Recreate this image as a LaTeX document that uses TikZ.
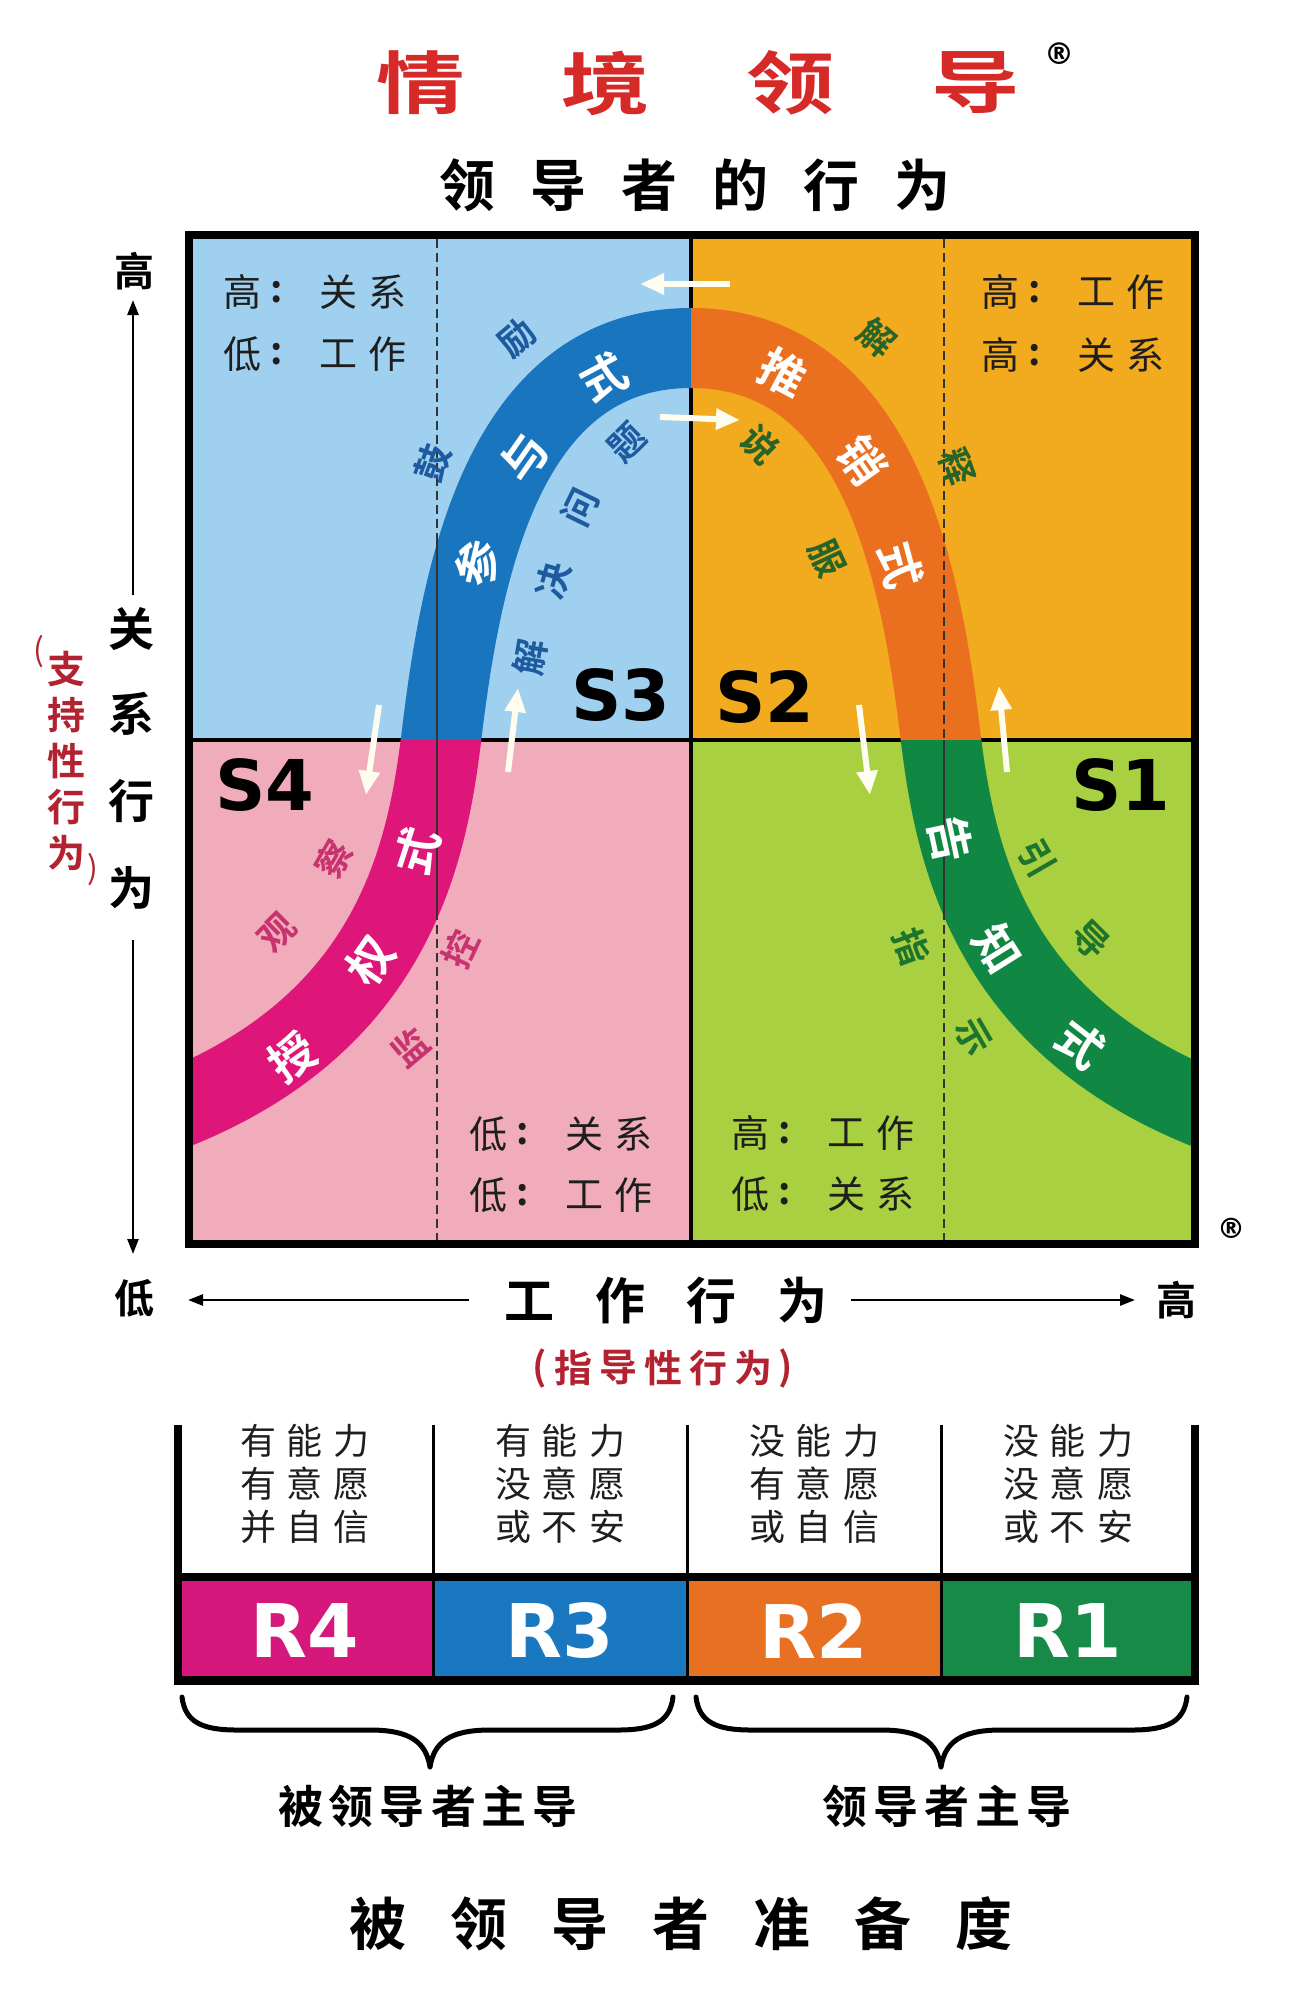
\documentclass[tikz,border=0pt]{standalone}
\usepackage{fontspec}
\usetikzlibrary{arrows.meta}
\newfontfamily\cjk{Noto Sans CJK SC}
\newfontfamily\cjkb{Noto Sans CJK SC Bold}
\newfontfamily\dej{DejaVu Sans}
\newcommand\fsz[1]{\fontsize{#1}{#1}\selectfont}
\definecolor{qblue}{RGB}{160,208,240}
\definecolor{qorange}{RGB}{242,170,30}
\definecolor{qpink}{RGB}{240,172,186}
\definecolor{qlime}{RGB}{168,208,64}
\definecolor{bandblue}{RGB}{25,118,190}
\definecolor{bandorange}{RGB}{234,112,32}
\definecolor{bandmag}{RGB}{222,22,122}
\definecolor{bandgreen}{RGB}{16,136,68}
\definecolor{titlered}{RGB}{214,42,40}
\definecolor{subred}{RGB}{178,34,48}
\definecolor{txtdark}{RGB}{30,30,30}
\definecolor{tblue}{RGB}{30,90,160}
\definecolor{tgreenA}{RGB}{40,100,40}
\definecolor{tmag}{RGB}{200,50,110}
\definecolor{tgreenB}{RGB}{30,115,45}
\definecolor{arrowwhite}{RGB}{255,253,240}
\definecolor{rfour}{RGB}{214,24,124}
\definecolor{rthree}{RGB}{26,120,192}
\definecolor{rtwo}{RGB}{232,112,34}
\definecolor{rone}{RGB}{22,138,70}
\newcommand\qlab[5]{%
  \node[qtxt] at (#1,#2) {#3};
  \node[qtxt,font=\cjkb\fsz{38}] at (#1+35,#2) {:};
  \node[qtxt] at (#1+96,#2) {#4};
  \node[qtxt] at (#1+145,#2) {#5};}
\newcommand\tri[3]{#1\hspace{11pt}#2\hspace{11pt}#3}
\begin{document}
\begin{tikzpicture}[x=1pt,y=-1pt,
  every node/.style={inner sep=0pt,outer sep=0pt},
  titletxt/.style={text=titlered,font=\cjkb\fsz{68},xscale=1.3},
  headtxt/.style={text=black,font=\cjkb\fsz{56}},
  axtxt/.style={text=black,font=\cjkb\fsz{46}},
  endtxt/.style={text=black,font=\cjkb\fsz{40}},
  redtxt/.style={text=subred,font=\cjkb\fsz{38}},
  qtxt/.style={text=txtdark,font=\cjk\fsz{38}},
  slab/.style={text=black,font=\dej\bfseries\fsz{70}},
  rlab/.style={text=white,font=\dej\bfseries\fsz{74}},
  bandtxt/.style={text=white,font=\cjkb\fsz{46}},
  smalltxt/.style={font=\cjkb\fsz{36}},
  celltxt/.style={text=txtdark,font=\cjk\fsz{36}},
  leadtxt/.style={text=black,font=\cjkb\fsz{45}},
  dashline/.style={draw=black!80,line width=2.5pt,dash pattern=on 9pt off 5pt},
  warrow/.style={draw=arrowwhite,line width=6pt,-{Triangle[length=24pt,width=20pt]}},
  axarrow/.style={draw=black,line width=2.5pt,-{Triangle[length=15pt,width=11pt]}},
  bracestyle/.style={draw=black,line width=5pt,line cap=round,line join=round}]
\useasboundingbox (0,0) rectangle (1296,2000);
\fill[white] (0,0) rectangle (1296,2000);

% title
\foreach \c/\x [count=\i] in {情/421,境/606,领/791,导/976}
  \node[titletxt] (t\i) at (\x,83) {\c};
\node[font=\dej\bfseries\fsz{30}] (reg1) at (1059,54) {®};
\node[headtxt] (head) at (695,185) {领\hspace{35pt}导\hspace{35pt}者\hspace{35pt}的\hspace{35pt}行\hspace{35pt}为};

% quadrants
\fill[qblue] (189,235) rectangle (691,740);
\fill[qorange] (691,235) rectangle (1195,740);
\fill[qpink] (189,740) rectangle (691,1244);
\fill[qlime] (691,740) rectangle (1195,1244);
\draw[line width=4pt] (691,235) -- (691,1244);
\draw[line width=4pt] (189,740) -- (1195,740);

% band
\foreach \xa/\ya/\xb/\yb/\col in {193/239/691/740/bandblue,691/239/1191/740/bandorange,193/740/691/1240/bandmag,691/740/1191/1240/bandgreen}{
  \begin{scope}
    \clip (\xa,\ya) rectangle (\xb,\yb);
    \draw[\col,line width=80pt] (160,1115) .. controls (390,1030) and (426,860) .. (441,740)
      .. controls (460,580) and (500,348) .. (691,348)
      .. controls (882,348) and (922,580) .. (941,740)
      .. controls (956,860) and (992,1030) .. (1222,1115);
  \end{scope}}

% dashed lines
\draw[dashline] (437,239) -- (437,1240);
\draw[dashline] (944,239) -- (944,1240);
\draw[black!80,line width=2pt] (437,540) -- (437,912);
\draw[black!80,line width=2pt] (944,740) -- (944,914);

% outer border
\draw[line width=8pt] (189,235) rectangle (1195,1244);

% quadrant labels
\qlab{242}{292}{高}{关}{系}
\qlab{242}{354}{低}{工}{作}
\qlab{1000}{292}{高}{工}{作}
\qlab{1000}{355}{高}{关}{系}
\qlab{488}{1134}{低}{关}{系}
\qlab{488}{1195}{低}{工}{作}
\qlab{750}{1133}{高}{工}{作}
\qlab{750}{1194}{低}{关}{系}

% S labels
\node[slab] (s3) at (621,695) {S3};
\node[slab] (s2) at (765,697) {S2};
\node[slab] (s4) at (265,785) {S4};
\node[slab] (s1) at (1121,785) {S1};

% band texts
\node[bandtxt,rotate=77] (b1) at (477,563) {参};
\node[bandtxt,rotate=55] (b2) at (524,458) {与};
\node[bandtxt,rotate=28] (b3) at (604,377) {式};
\node[bandtxt,rotate=-28] (b4) at (783,373) {推};
\node[bandtxt,rotate=-55] (b5) at (862,460) {销};
\node[bandtxt,rotate=-75] (b6) at (900,565) {式};
\node[bandtxt,rotate=35] (b7) at (292,1057) {授};
\node[bandtxt,rotate=55] (b8) at (370,961) {权};
\node[bandtxt,rotate=72] (b9) at (417,851) {式};
\node[bandtxt,rotate=-78] (b10) at (950,839) {告};
\node[bandtxt,rotate=-58] (b11) at (998,949) {知};
\node[bandtxt,rotate=-38] (b12) at (1080,1044) {式};

% small texts
\node[smalltxt,text=tblue,rotate=70] (m1) at (433,463) {鼓};
\node[smalltxt,text=tblue,rotate=40] (m2) at (517,338) {励};
\node[smalltxt,text=tblue,rotate=80] (m3) at (530,657) {解};
\node[smalltxt,text=tblue,rotate=74] (m4) at (553,580) {决};
\node[smalltxt,text=tblue,rotate=64] (m5) at (580,507) {问};
\node[smalltxt,text=tblue,rotate=45] (m6) at (627,443) {题};
\node[smalltxt,text=tgreenA,rotate=-40] (m7) at (877,338) {解};
\node[smalltxt,text=tgreenA,rotate=-70] (m8) at (957,467) {释};
\node[smalltxt,text=tgreenA,rotate=-45] (m9) at (760,445) {说};
\node[smalltxt,text=tgreenA,rotate=-65] (m10) at (827,558) {服};
\node[smalltxt,text=tmag,rotate=45] (m11) at (277,933) {观};
\node[smalltxt,text=tmag,rotate=60] (m12) at (333,859) {察};
\node[smalltxt,text=tmag,rotate=40] (m13) at (410,1047) {监};
\node[smalltxt,text=tmag,rotate=65] (m14) at (460,949) {控};
\node[smalltxt,text=tgreenB,rotate=-60] (m15) at (1037,858) {引};
\node[smalltxt,text=tgreenB,rotate=-45] (m16) at (1091,940) {导};
\node[smalltxt,text=tgreenB,rotate=-70] (m17) at (912,947) {指};
\node[smalltxt,text=tgreenB,rotate=-60] (m18) at (973,1037) {示};

% white arrows
\coordinate (wa1) at (730,284); \coordinate (wa2) at (640,284);
\coordinate (wb1) at (660,417); \coordinate (wb2) at (740,420);
\coordinate (wc1) at (379,705); \coordinate (wc2) at (366,795);
\coordinate (wd1) at (508,772); \coordinate (wd2) at (518,688);
\coordinate (we1) at (859,705); \coordinate (we2) at (870,795);
\coordinate (wf1) at (1007,772); \coordinate (wf2) at (999,686);
\draw[warrow] (wa1) -- (wa2);
\draw[warrow] (wb1) -- (wb2);
\draw[warrow] (wc1) -- (wc2);
\draw[warrow] (wd1) -- (wd2);
\draw[warrow] (we1) -- (we2);
\draw[warrow] (wf1) -- (wf2);

\node[font=\dej\bfseries\fsz{28}] (reg2) at (1231,1228) {®};

% left axis
\node[endtxt] (hiL) at (134,271) {高};
\node[endtxt] (loL) at (134,1298) {低};
\foreach \c/\y [count=\i] in {关/629,系/714,行/801,为/888}
  \node[axtxt] (ax\i) at (131,\y) {\c};
\coordinate (la1) at (133,595); \coordinate (la2) at (133,300);
\coordinate (lb1) at (133,940); \coordinate (lb2) at (133,1254);
\draw[axarrow] (la1) -- (la2);
\draw[axarrow] (lb1) -- (lb2);
\foreach \c/\y [count=\i] in {支/669,持/715,性/761,行/807,为/853}
  \node[redtxt] (rv\i) at (66,\y) {\c};
\node[redtxt,font=\cjk\fsz{32}] (rvp1) at (39,652) {(};
\node[redtxt,font=\cjk\fsz{32}] (rvp2) at (93,870) {)};

% bottom axis
\node[endtxt] (hiB) at (1176,1300) {高};
\node[font=\cjkb\fsz{50}] (bx) at (666,1301) {工\hspace{41pt}作\hspace{41pt}行\hspace{41pt}为};
\coordinate (ba1) at (469,1300); \coordinate (ba2) at (188,1300);
\coordinate (bb1) at (851,1300); \coordinate (bb2) at (1135,1300);
\draw[axarrow] (ba1) -- (ba2);
\draw[axarrow] (bb1) -- (bb2);
\foreach \c/\x [count=\i] in {指/573,导/618,性/663,行/708,为/753}
  \node[redtxt] (rh\i) at (\x,1368) {\c};
\node[redtxt] (rhp1) at (540,1368) {(};
\node[redtxt] (rhp2) at (786,1368) {)};

% table
\fill[rfour] (178,1581) rectangle (433,1676);
\fill[rthree] (433,1581) rectangle (687,1676);
\fill[rtwo] (687,1581) rectangle (941,1676);
\fill[rone] (941,1581) rectangle (1195,1676);
\foreach \x in {433,687,941} \draw[line width=3pt] (\x,1425) -- (\x,1676);
\draw[line width=8pt] (178,1425) -- (178,1684);
\draw[line width=8pt] (1195,1425) -- (1195,1684);
\draw[line width=8pt] (174,1577) -- (1199,1577);
\draw[line width=9pt] (174,1680) -- (1199,1680);
\node[celltxt] (ca1) at (305,1441) {\tri{有}{能}{力}};
\node[celltxt] (cb1) at (305,1484) {\tri{有}{意}{愿}};
\node[celltxt] (cc1) at (305,1527) {\tri{并}{自}{信}};
\node[celltxt] (ca2) at (560,1441) {\tri{有}{能}{力}};
\node[celltxt] (cb2) at (560,1484) {\tri{没}{意}{愿}};
\node[celltxt] (cc2) at (560,1527) {\tri{或}{不}{安}};
\node[celltxt] (ca3) at (814,1441) {\tri{没}{能}{力}};
\node[celltxt] (cb3) at (814,1484) {\tri{有}{意}{愿}};
\node[celltxt] (cc3) at (814,1527) {\tri{或}{自}{信}};
\node[celltxt] (ca4) at (1068,1441) {\tri{没}{能}{力}};
\node[celltxt] (cb4) at (1068,1484) {\tri{没}{意}{愿}};
\node[celltxt] (cc4) at (1068,1527) {\tri{或}{不}{安}};
\node[rlab] (r4) at (305,1631) {R4};
\node[rlab] (r3) at (560,1631) {R3};
\node[rlab] (r2) at (814,1631) {R2};
\node[rlab] (r1) at (1068,1631) {R1};

% braces
\foreach \xa/\xt/\xb in {182/430/673,696/941/1187}
  \draw[bracestyle] (\xa,1697) .. controls (\xa+3,1722) and (\xa+20,1730) .. (\xa+55,1730)
    -- (\xt-60,1730) .. controls (\xt-20,1730) and (\xt-4,1742) .. (\xt,1767)
    .. controls (\xt+4,1742) and (\xt+20,1730) .. (\xt+60,1730)
    -- (\xb-55,1730) .. controls (\xb-20,1730) and (\xb-3,1722) .. (\xb,1697);
\node[leadtxt] (lead1) at (428,1806) {被\hspace{6pt}领\hspace{6pt}导\hspace{6pt}者\hspace{6pt}主\hspace{6pt}导};
\node[leadtxt] (lead2) at (947,1806) {领\hspace{6pt}导\hspace{6pt}者\hspace{6pt}主\hspace{6pt}导};
\node[font=\cjkb\fsz{57}] (foot) at (681,1924) {被\hspace{44pt}领\hspace{44pt}导\hspace{44pt}者\hspace{44pt}准\hspace{44pt}备\hspace{44pt}度};
\end{tikzpicture}
\end{document}
